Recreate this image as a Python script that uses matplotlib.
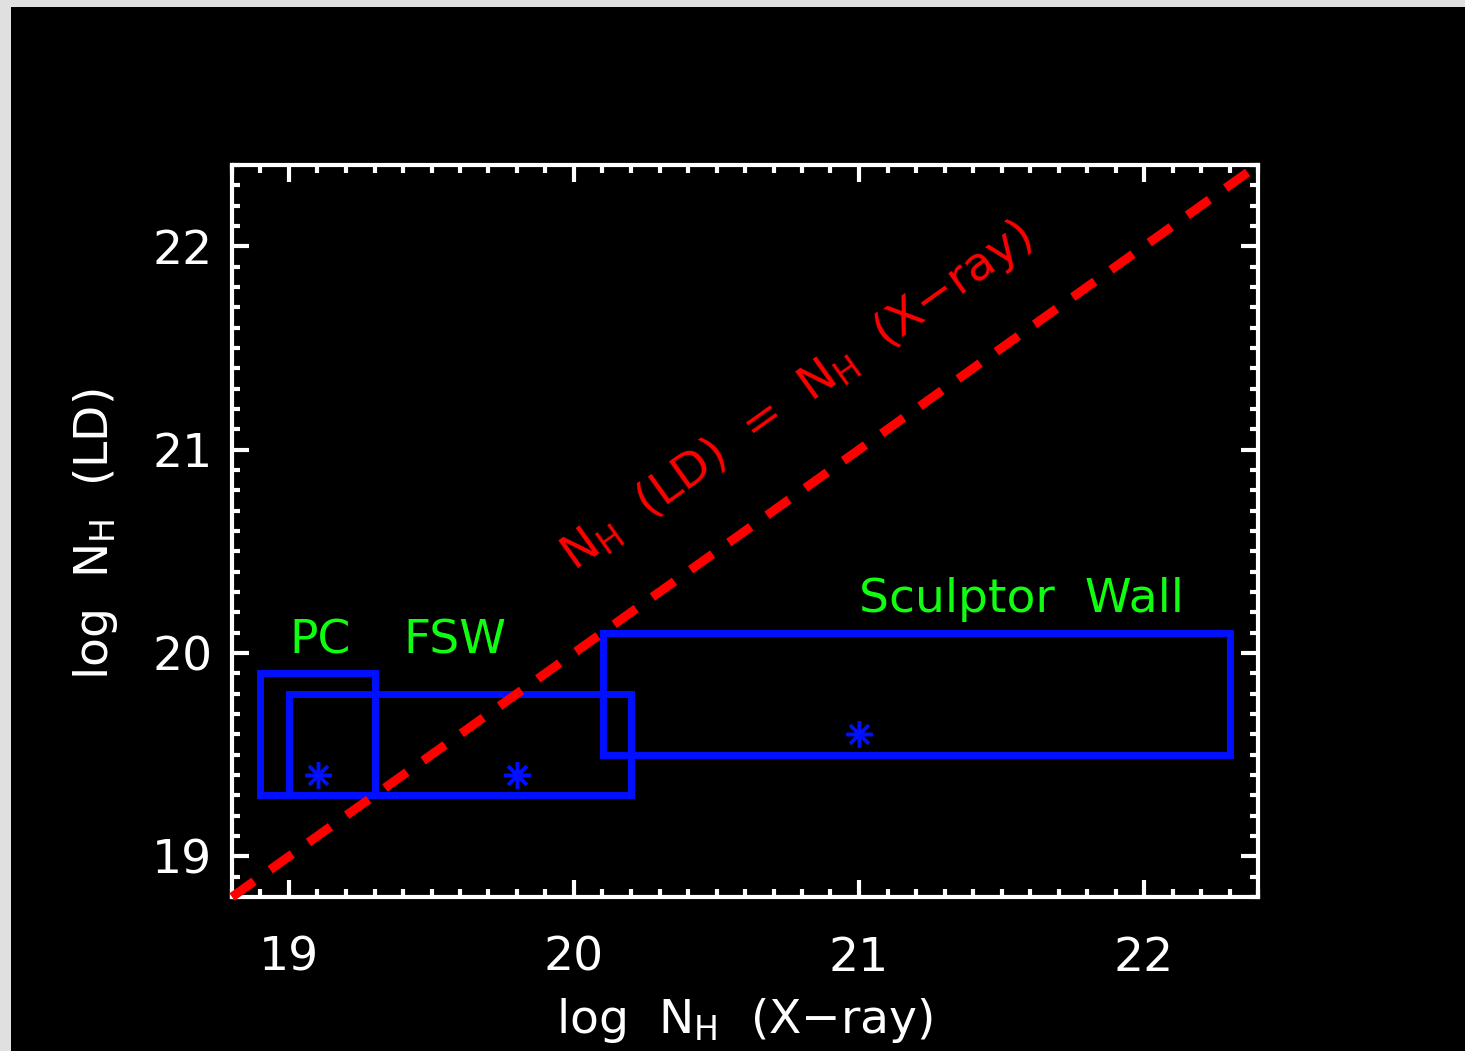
import matplotlib
matplotlib.use("Agg")
import matplotlib.pyplot as plt
from matplotlib.patches import Rectangle
from matplotlib.ticker import MultipleLocator

plt.rcParams['font.family'] = ['DejaVu Sans']
plt.rcParams['mathtext.default'] = 'regular'

# column density ranges (log N_H) for each sample: x = X-ray, y = LD
names = ["PC", "FSW", "Sculptor  Wall"]
x_lo = [18.9, 19.0, 20.1]
x_hi = [19.3, 20.2, 22.3]
y_lo = [19.3, 19.3, 19.5]
y_hi = [19.9, 19.8, 20.1]
# best values
x_best = [19.1, 19.8, 21.0]
y_best = [19.4, 19.4, 19.6]
# label anchors
lab_x = [19.0, 19.4, 21.0]
lab_y = [20.0, 20.0, 20.2]

lims = [18.8, 22.4]
major_ticks = [19, 20, 21, 22]

fig = plt.figure(figsize=(14.65, 10.51), dpi=100, facecolor='#e0e0e0')
# black plotting page inside the grey frame
fig.patches.append(Rectangle((11 / 1465, 0), 1, 1 - 7 / 1051, transform=fig.transFigure,
                             facecolor='black', edgecolor='none', zorder=-1))

ax = fig.add_axes([232 / 1465, 154 / 1051, 1026 / 1465, 732 / 1051])
ax.set_facecolor('black')

# one-to-one line
ax.plot(lims, lims, color='#ff0000', lw=6.5, dashes=(3.0, 2.2),
        dash_capstyle='butt', clip_on=False, zorder=3)

for i in range(len(names)):
    bx = [x_lo[i], x_hi[i], x_hi[i], x_lo[i], x_lo[i]]
    by = [y_lo[i], y_lo[i], y_hi[i], y_hi[i], y_lo[i]]
    ax.plot(bx, by, color='#0010ff', lw=5, solid_joinstyle='miter', zorder=2)
    ax.text(lab_x[i], lab_y[i], names[i], color='#10ff10', fontsize=34,
            ha='left', va='baseline')

ax.plot(x_best, y_best, linestyle='none', marker=(8, 2, 0), markersize=19,
        markeredgewidth=2.5, color='#0010ff', zorder=4)

ax.text(20.0, 20.4, r'N$_H$  (LD)  =  N$_H$  (X$-$ray)', color='#ff0000', fontsize=34,
        rotation=35.5, rotation_mode='anchor', ha='left', va='baseline')

ax.set_xlim(lims)
ax.set_ylim(lims)
ax.set_xticks(major_ticks)
ax.set_yticks(major_ticks)
ax.xaxis.set_minor_locator(MultipleLocator(0.1))
ax.yaxis.set_minor_locator(MultipleLocator(0.1))
ax.tick_params(which='both', direction='in', top=True, right=True, colors='white',
               width=3, labelsize=34, labelcolor='white')
ax.tick_params(which='major', length=12)
ax.tick_params(which='minor', length=6)
ax.tick_params(axis='x', pad=28)
ax.tick_params(axis='y', pad=14)
for s in ax.spines.values():
    s.set_color('white')
    s.set_linewidth(3)

ax.set_xlabel(r'log  N$_H$  (X$-$ray)', color='white', fontsize=34)
ax.xaxis.set_label_coords(0.5, -0.135)
ax.set_ylabel(r'log  N$_H$  (LD)', color='white', fontsize=34)
ax.yaxis.set_label_coords(-0.109, 0.495)

fig.savefig('out.png', dpi=100, facecolor=fig.get_facecolor())
